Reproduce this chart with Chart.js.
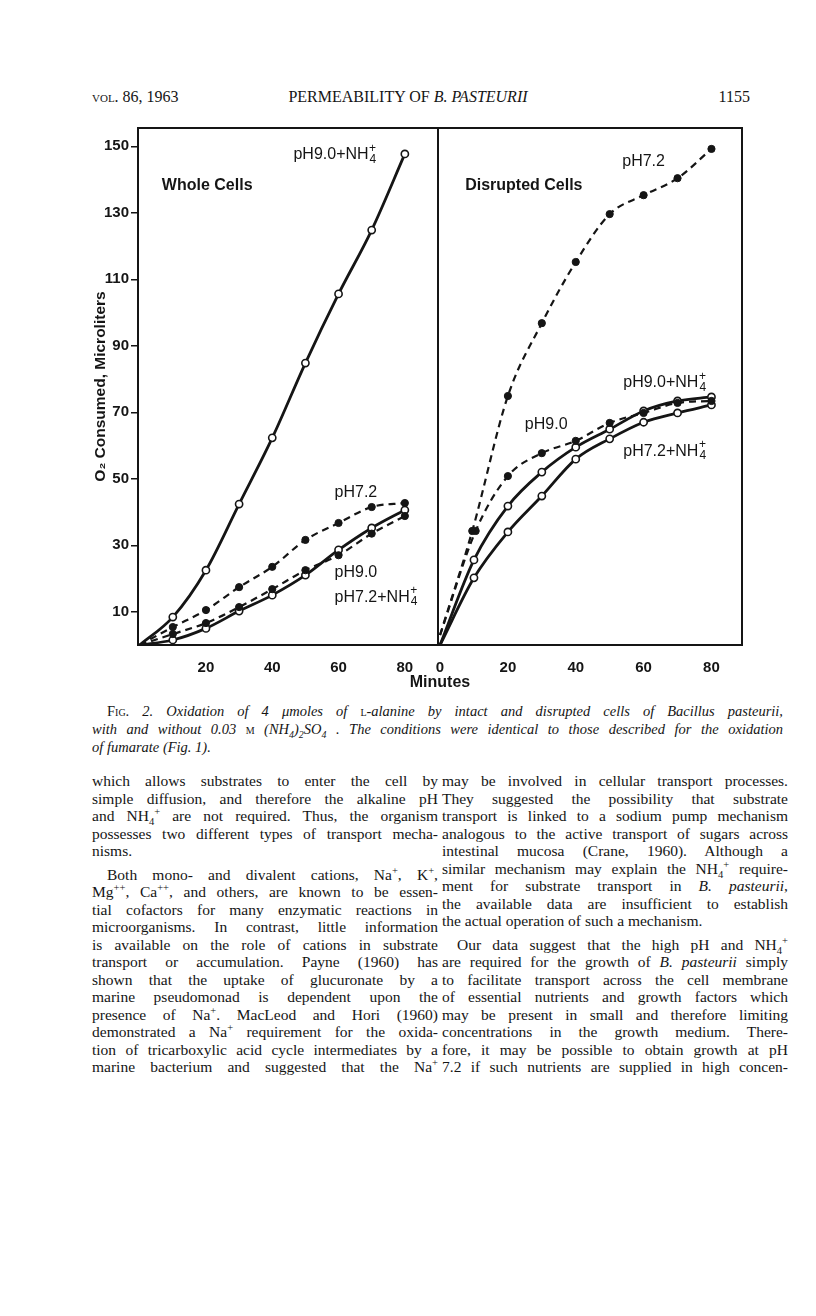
<!DOCTYPE html>
<html>
<head>
<meta charset="utf-8">
<script src="https://cdn.jsdelivr.net/npm/chart.js@4/dist/chart.umd.min.js"></script>
<style>
  body { margin: 0; background: #fff; }
  #page { position: relative; width: 816px; height: 1316px; background: #fff; color: #151515; font-family: "Liberation Serif", serif; }
  .abs { position: absolute; }
  .sc { font-variant: small-caps; font-style: normal; }
  sub, sup { font-size: 68%; line-height: 0; }
  .hdr { top: 88px; font-size: 16px; line-height: 18px; }
  .caption { left: 92px; top: 702px; width: 691px; font-size: 14.5px; line-height: 18px; font-style: italic; }
  .col { top: 772px; width: 346px; font-size: 15.5px; line-height: 17.5px; }
  .ln { text-align: justify; text-align-last: justify; }
  .end { text-align-last: left; margin-bottom: 6px; }
  .ind { text-indent: 15px; }
  .last { text-align-last: left; }
  canvas { position: absolute; }
  #minutes { left: 390px; width: 100px; top: 673px; text-align: center; font: bold 16px "Liberation Sans", sans-serif; }
</style>
</head>
<body>
<div id="page">
  <div class="abs hdr" style="left:92px"><span class="sc">vol.</span> 86, 1963</div>
  <div class="abs hdr" style="left:0;width:816px;text-align:center">PERMEABILITY OF <i>B. PASTEURII</i></div>
  <div class="abs hdr" style="right:66px">1155</div>

  <div style="position:absolute;left:60px;top:120px;width:380px;height:560px"><canvas id="whole"></canvas></div>
  <div style="position:absolute;left:436px;top:120px;width:320px;height:560px"><canvas id="disrupted"></canvas></div>
  <div id="minutes" class="abs">Minutes</div>

  <div class="abs caption">
    <div class="ln ind"><span class="sc">Fig.</span> 2. Oxidation of 4 &mu;moles of <span class="sc">l</span>-alanine by intact and disrupted cells of Bacillus pasteurii,</div>
    <div class="ln">with and without 0.03 <span class="sc">m</span> (NH<sub>4</sub>)<sub>2</sub>SO<sub>4</sub> . The conditions were identical to those described for the oxidation</div>
    <div class="ln last">of fumarate (Fig. 1).</div>
  </div>

  <div class="abs col" style="left:92px">
    <div class="ln">which allows substrates to enter the cell by</div>
    <div class="ln">simple diffusion, and therefore the alkaline pH</div>
    <div class="ln">and NH<sub>4</sub><sup>+</sup> are not required. Thus, the organism</div>
    <div class="ln">possesses two different types of transport mecha-</div>
    <div class="ln end">nisms.</div>
    <div class="ln ind">Both mono- and divalent cations, Na<sup>+</sup>, K<sup>+</sup>,</div>
    <div class="ln">Mg<sup>++</sup>, Ca<sup>++</sup>, and others, are known to be essen-</div>
    <div class="ln">tial cofactors for many enzymatic reactions in</div>
    <div class="ln">microorganisms. In contrast, little information</div>
    <div class="ln">is available on the role of cations in substrate</div>
    <div class="ln">transport or accumulation. Payne (1960) has</div>
    <div class="ln">shown that the uptake of glucuronate by a</div>
    <div class="ln">marine pseudomonad is dependent upon the</div>
    <div class="ln">presence of Na<sup>+</sup>. MacLeod and Hori (1960)</div>
    <div class="ln">demonstrated a Na<sup>+</sup> requirement for the oxida-</div>
    <div class="ln">tion of tricarboxylic acid cycle intermediates by a</div>
    <div class="ln">marine bacterium and suggested that the Na<sup>+</sup></div>
  </div>

  <div class="abs col" style="left:442px">
    <div class="ln">may be involved in cellular transport processes.</div>
    <div class="ln">They suggested the possibility that substrate</div>
    <div class="ln">transport is linked to a sodium pump mechanism</div>
    <div class="ln">analogous to the active transport of sugars across</div>
    <div class="ln">intestinal mucosa (Crane, 1960). Although a</div>
    <div class="ln">similar mechanism may explain the NH<sub>4</sub><sup>+</sup> require-</div>
    <div class="ln">ment for substrate transport in <i>B. pasteurii</i>,</div>
    <div class="ln">the available data are insufficient to establish</div>
    <div class="ln end">the actual operation of such a mechanism.</div>
    <div class="ln ind">Our data suggest that the high pH and NH<sub>4</sub><sup>+</sup></div>
    <div class="ln">are required for the growth of <i>B. pasteurii</i> simply</div>
    <div class="ln">to facilitate transport across the cell membrane</div>
    <div class="ln">of essential nutrients and growth factors which</div>
    <div class="ln">may be present in small and therefore limiting</div>
    <div class="ln">concentrations in the growth medium. There-</div>
    <div class="ln">fore, it may be possible to obtain growth at pH</div>
    <div class="ln">7.2 if such nutrients are supplied in high concen-</div>
  </div>
</div>

<script>
// time points (minutes)
const minutes = [0, 10, 20, 30, 40, 50, 60, 70, 80];
const minutesEarly = [0, 9.5, 20, 30, 40, 50, 60, 70, 80];
const minutesLate = [0, 10.5, 20, 30, 40, 50, 60, 70, 80];

// O2 consumed, whole cells
const wholePh90Nh4 = [0, 8.4, 22.5, 42.4, 62.3, 84.8, 105.6, 124.8, 147.7];
const wholePh72 = [0, 5.4, 10.5, 17.4, 23.5, 31.6, 36.7, 41.5, 42.7];
const wholePh90 = [0, 3.3, 6.6, 11.4, 16.8, 22.5, 27.0, 33.5, 38.8];
const wholePh72Nh4 = [0, 1.5, 5.0, 10.2, 15.0, 21.0, 28.6, 35.2, 40.6];

// O2 consumed, disrupted cells
const disruptedPh72 = [3, 34.3, 74.9, 96.8, 115.2, 129.6, 135.3, 140.4, 149.2];
const disruptedPh90 = [3, 34.3, 50.8, 57.7, 61.4, 66.8, 69.8, 72.8, 73.4];
const disruptedPh90Nh4 = [0, 25.6, 41.8, 52.0, 59.5, 64.9, 70.4, 73.4, 74.6];
const disruptedPh72Nh4 = [0, 20.2, 34.0, 44.8, 55.9, 62.0, 67.0, 69.8, 72.2];

// tick labels
const yTicks = [10, 30, 50, 70, 90, 110, 130, 150];
const xTicksWhole = [20, 40, 60, 80];
const xTicksDisrupted = [0, 20, 40, 60, 80];

const ink = '#151515';
const sans = '"Liberation Sans", "DejaVu Sans", sans-serif';

function series(xs, ys, dashed, open) {
    return {
        data: xs.map((x, i) => ({ x: x, y: ys[i] })),
        borderColor: ink,
        borderWidth: dashed ? 2.2 : 2.8,
        borderDash: dashed ? [7, 5] : [],
        cubicInterpolationMode: 'monotone',
        pointRadius: xs.map((x, i) => i === 0 ? 0 : 3.6),
        pointHoverRadius: 0,
        pointBackgroundColor: open ? '#fff' : ink,
        pointBorderColor: ink,
        pointBorderWidth: open ? 1.6 : 1,
        fill: false
    };
}

// frame around the plot area
const frame = {
    id: 'frame',
    afterDatasetsDraw(chart) {
        const a = chart.chartArea;
        const ctx = chart.ctx;
        ctx.save();
        ctx.strokeStyle = ink;
        ctx.lineWidth = 2;
        ctx.strokeRect(a.left, a.top, a.right - a.left, a.bottom - a.top);
        ctx.restore();
    }
};

// text inside the panels, anchored in data units
const panelText = {
    id: 'panelText',
    afterDraw(chart, args, opts) {
        const ctx = chart.ctx;
        const xs = chart.scales.x, ys = chart.scales.y;
        ctx.save();
        ctx.fillStyle = ink;
        ctx.textBaseline = 'middle';
        ctx.textAlign = 'left';
        opts.items.forEach(item => {
            const px = xs.getPixelForValue(item.x);
            const py = ys.getPixelForValue(item.y);
            ctx.font = (item.bold ? 'bold ' : '') + '16px ' + sans;
            ctx.fillText(item.text, px, py);
            if (item.ion) {
                const w = ctx.measureText(item.text).width;
                ctx.font = (item.bold ? 'bold ' : '') + '12px ' + sans;
                ctx.fillText('+', px + w + 0.5, py - 6);
                ctx.fillText('4', px + w + 1, py + 5);
            }
        });
        ctx.restore();
    }
};

function axisX(min, max, ticks) {
    return {
        type: 'linear', min: min, max: max,
        afterBuildTicks: s => { s.ticks = ticks.map(v => ({ value: v })); },
        afterFit: s => { s.height = 35; s.paddingLeft = 0; s.paddingRight = 0; },
        grid: { display: false },
        border: { display: false },
        ticks: { color: ink, font: { family: sans, size: 15, weight: 'bold' }, padding: 6, maxRotation: 0, autoSkip: false }
    };
}

function axisY(show) {
    return {
        min: 0, max: 155.5,
        display: show,
        afterBuildTicks: s => { s.ticks = yTicks.map(v => ({ value: v })); },
        afterFit: s => { s.width = show ? 78 : 0; s.paddingTop = 0; s.paddingBottom = 0; },
        grid: { drawOnChartArea: false, drawTicks: true, tickLength: 7, color: ink, lineWidth: 1.5 },
        border: { display: false },
        ticks: { color: ink, font: { family: sans, size: 15, weight: 'bold' }, padding: 2 },
        title: { display: true, text: 'O₂ Consumed, Microliters', color: ink, font: { family: sans, size: 15.5, weight: 'bold' }, padding: { top: 31, bottom: 0 } }
    };
}

const common = {
    responsive: true,
    maintainAspectRatio: false,
    animation: false,
    events: [],
    plugins: { legend: { display: false }, tooltip: { enabled: false } }
};

new Chart(document.getElementById('whole'), {
    type: 'line',
    data: {
        datasets: [
            series(minutes, wholePh90Nh4, false, true),
            series(minutes, wholePh72, true, false),
            series(minutes, wholePh90, true, false),
            series(minutes, wholePh72Nh4, false, true)
        ]
    },
    options: {
        ...common,
        layout: { autoPadding: false, padding: { left: 0, right: 2, top: 8, bottom: 0 } },
        scales: { x: axisX(-0.5, 90, xTicksWhole), y: axisY(true) },
        plugins: {
            ...common.plugins,
            panelText: { items: [
                { text: 'Whole Cells', x: 6.7, y: 138.3, bold: true },
                { text: 'pH9.0+NH', x: 46.4, y: 147.4, ion: true },
                { text: 'pH7.2', x: 58.8, y: 45.7 },
                { text: 'pH9.0', x: 58.8, y: 21.7 },
                { text: 'pH7.2+NH', x: 58.8, y: 14.4, ion: true }
            ] }
        }
    },
    plugins: [frame, panelText]
});

new Chart(document.getElementById('disrupted'), {
    type: 'line',
    data: {
        datasets: [
            series(minutesEarly, disruptedPh72, true, false),
            series(minutesLate, disruptedPh90, true, false),
            series(minutes, disruptedPh90Nh4, false, true),
            series(minutes, disruptedPh72Nh4, false, true)
        ]
    },
    options: {
        ...common,
        layout: { autoPadding: false, padding: { left: 2, right: 14, top: 8, bottom: 0 } },
        scales: { x: axisX(-0.6, 89, xTicksDisrupted), y: axisY(false) },
        plugins: {
            ...common.plugins,
            panelText: { items: [
                { text: 'Disrupted Cells', x: 7.4, y: 138.3, bold: true },
                { text: 'pH7.2', x: 53.7, y: 145.3 },
                { text: 'pH9.0+NH', x: 54, y: 78.8, ion: true },
                { text: 'pH9.0', x: 25, y: 66.2 },
                { text: 'pH7.2+NH', x: 54, y: 58.3, ion: true }
            ] }
        }
    },
    plugins: [frame, panelText]
});
</script>
</body>
</html>
